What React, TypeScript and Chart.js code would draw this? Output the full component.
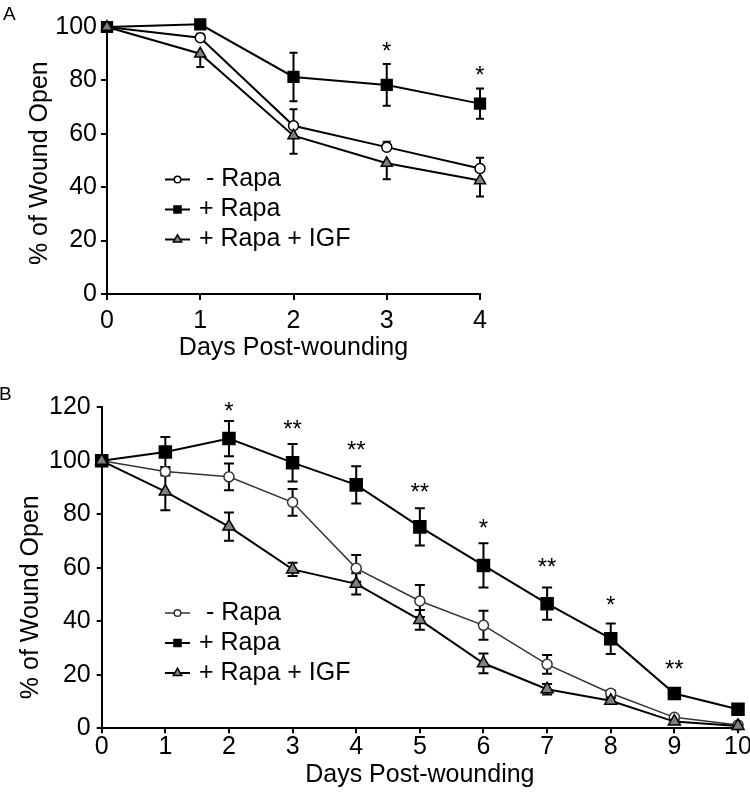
import React, { useEffect, useRef } from 'react';
import { Chart, registerables } from 'chart.js';

Chart.register(...registerables);

const FONT = "'Liberation Sans', Arial, Helvetica, sans-serif";
const TEXT_SIZE = 25;

// ---------- Shared text ----------
const seriesLabels = [' - Rapa', '+ Rapa', '+ Rapa + IGF'];
const xTitle = 'Days Post-wounding';
const yTitle = '% of Wound Open';

// ---------- Panel A ----------
const daysA = [0, 1, 2, 3, 4];
const minusRapaA = [100, 96, 63, 55, 47];
const minusRapaErrA = [0, 1.5, 6.2, 2, 4];
const plusRapaA = [100, 101, 81.3, 78.3, 71.3];
const plusRapaErrA = [0, 1.5, 9.1, 7.8, 5.7];
const igfA = [100, 90, 59.3, 49, 42.5];
const igfErrA = [0, 5, 6.8, 6, 6];
const starDaysA = [3, 4];
const starTextA = ['*', '*'];
const starLevelA = [93, 84];
const yTicksA = [0, 20, 40, 60, 80, 100];

// ---------- Panel B ----------
const daysB = [0, 1, 2, 3, 4, 5, 6, 7, 8, 9, 10];
const minusRapaB = [100, 96, 94, 84.5, 59.8, 47.6, 38.5, 23.9, 13.1, 4.1, 1.2];
const minusRapaErrB = [0, 1.5, 5, 5, 5, 6, 5.4, 3.5, 1, 0.5, 0.3];
const plusRapaB = [100, 103.3, 108.3, 99.3, 91, 75.3, 60.9, 46.6, 33.5, 13, 7.1];
const plusRapaErrB = [0, 5.6, 6.6, 7, 7, 7, 8.3, 6, 5.7, 1.5, 1];
const igfB = [100, 88.5, 75.4, 59.4, 54, 40.5, 24.3, 14.6, 10.3, 2.5, 0.9];
const igfErrB = [0, 7, 5.3, 2.5, 4, 3.7, 3.7, 2, 1, 0.5, 0.3];
const starDaysB = [2, 3, 4, 5, 6, 7, 8, 9];
const starTextB = ['*', '**', '**', '**', '*', '**', '*', '**'];
const starLevelB = [120.9, 114, 106.3, 90.3, 76.9, 62.3, 48.2, 24.3];
const yTicksB = [0, 20, 40, 60, 80, 100, 120];

const toPts = (xs: number[], ys: number[]) => xs.map((x, i) => ({ x, y: ys[i] }));

function drawMarker(ctx: CanvasRenderingContext2D, style: string, x: number, y: number, r: number) {
  ctx.beginPath();
  if (style === 'circle') {
    ctx.arc(x, y, r, 0, Math.PI * 2);
  } else if (style === 'rect') {
    const s = r * Math.SQRT1_2;
    ctx.rect(x - s, y - s, 2 * s, 2 * s);
  } else {
    let a = 0;
    for (let k = 0; k < 3; k++) {
      const px = x + Math.sin(a) * r;
      const py = y - Math.cos(a) * r;
      if (k === 0) ctx.moveTo(px, py);
      else ctx.lineTo(px, py);
      a += (2 * Math.PI) / 3;
    }
    ctx.closePath();
  }
  ctx.fill();
  ctx.stroke();
}

const errorBarPlugin = {
  id: 'errorBars',
  beforeDatasetsDraw(chart: any, _args: any, o: any) {
    const { ctx } = chart;
    const xS = chart.scales.x;
    const yS = chart.scales.y;
    ctx.save();
    ctx.strokeStyle = '#000';
    ctx.lineWidth = o.lineWidth;
    chart.data.datasets.forEach((ds: any) => {
      const errs: number[] = ds.errorBars;
      if (!errs) return;
      ds.data.forEach((pt: any, j: number) => {
        const e = errs[j];
        if (!e) return;
        const up = ds.errorDir !== 'down';
        const down = ds.errorDir !== 'up';
        const px = xS.getPixelForValue(pt.x);
        const yTop = yS.getPixelForValue(pt.y + (up ? e : 0));
        const yBot = yS.getPixelForValue(pt.y - (down ? e : 0));
        ctx.beginPath();
        ctx.moveTo(px, yTop);
        ctx.lineTo(px, yBot);
        if (up) {
          ctx.moveTo(px - o.cap, yTop);
          ctx.lineTo(px + o.cap, yTop);
        }
        if (down) {
          ctx.moveTo(px - o.cap, yBot);
          ctx.lineTo(px + o.cap, yBot);
        }
        ctx.stroke();
      });
    });
    ctx.restore();
  },
};

const starPlugin = {
  id: 'stars',
  afterDatasetsDraw(chart: any, _args: any, o: any) {
    const { ctx } = chart;
    const xS = chart.scales.x;
    const yS = chart.scales.y;
    ctx.save();
    ctx.fillStyle = '#000';
    ctx.font = `${o.size}px ${FONT}`;
    ctx.textAlign = 'center';
    ctx.textBaseline = 'alphabetic';
    o.days.forEach((d: number, i: number) => {
      const x = xS.getPixelForValue(d);
      const y = yS.getPixelForValue(o.levels[i]) + 0.57 * o.size;
      ctx.fillText(o.texts[i], x, y);
    });
    ctx.restore();
  },
};

const legendPlugin = {
  id: 'insetLegend',
  afterDraw(chart: any, _args: any, o: any) {
    const { ctx } = chart;
    ctx.save();
    chart.data.datasets.forEach((ds: any, i: number) => {
      const y = o.top + i * o.gap;
      ctx.strokeStyle = ds.borderColor;
      ctx.lineWidth = ds.borderWidth;
      ctx.beginPath();
      ctx.moveTo(o.left, y);
      ctx.lineTo(o.left + o.lineLen, y);
      ctx.stroke();
      ctx.fillStyle = ds.pointBackgroundColor;
      ctx.strokeStyle = ds.pointBorderColor;
      ctx.lineWidth = ds.pointBorderWidth;
      drawMarker(ctx, ds.pointStyle, o.left + o.lineLen / 2, y, o.markerRadius[i]);
      ctx.fillStyle = '#000';
      ctx.font = `${o.size}px ${FONT}`;
      ctx.textAlign = 'left';
      ctx.textBaseline = 'middle';
      ctx.fillText(ds.label, o.textX, y);
    });
    ctx.restore();
  },
};

const yTitlePlugin = {
  id: 'yTitle',
  afterDraw(chart: any, _args: any, o: any) {
    const { ctx } = chart;
    const y = chart.scales.y.getPixelForValue(o.value);
    ctx.save();
    ctx.translate(o.x, y);
    ctx.rotate(-Math.PI / 2);
    ctx.fillStyle = '#000';
    ctx.font = `${o.size}px ${FONT}`;
    ctx.textAlign = 'center';
    ctx.textBaseline = 'middle';
    ctx.fillText(o.text, 0, 0);
    ctx.restore();
  },
};

type PanelSpec = {
  days: number[];
  series: number[][];
  errs: number[][];
  dirs: string[];
  starDays: number[];
  starText: string[];
  starLevel: number[];
  yTicks: number[];
  height: number;
  chartTop: number;
  yAxisWidth: number;
  rightPad: number;
  xAxisHeight: number;
  tickLen: number;
  xTickPad: number;
  yTickPad: number;
  xTitlePadBottom: number;
  yTitleX: number;
  radii: number[];
  circleLine: string;
  circleLineWidth: number;
  cap: number;
  legendTop: number;
};

function buildConfig(p: PanelSpec): any {
  const styles = ['circle', 'rect', 'triangle'];
  const fills = ['#ffffff', '#000000', '#808080'];
  const orders = [2, 1, 0];
  const datasets = p.series.map((s, i) => ({
    label: seriesLabels[i],
    data: toPts(p.days, s),
    errorBars: p.errs[i],
    errorDir: p.dirs[i],
    borderColor: i === 0 ? p.circleLine : '#000000',
    borderWidth: i === 0 ? p.circleLineWidth : 2,
    pointStyle: styles[i],
    pointRadius: p.radii[i],
    pointHoverRadius: p.radii[i],
    pointBackgroundColor: fills[i],
    pointBorderColor: i === 0 ? p.circleLine : '#000000',
    pointBorderWidth: 1.5,
    tension: 0,
    fill: false,
    clip: false,
    order: orders[i],
  }));
  const tickFont = { family: FONT, size: TEXT_SIZE, lineHeight: 1 };
  const yMin = p.yTicks[0];
  const yMax = p.yTicks[p.yTicks.length - 1];
  return {
    type: 'line',
    data: { datasets },
    options: {
      animation: false,
      responsive: false,
      devicePixelRatio: 1,
      events: [],
      layout: { padding: { top: p.chartTop, left: 0, right: p.rightPad, bottom: 0 } },
      scales: {
        x: {
          type: 'linear',
          min: p.days[0],
          max: p.days[p.days.length - 1],
          ticks: { stepSize: 1, color: '#000', font: tickFont, padding: p.xTickPad, maxRotation: 0, autoSkip: false },
          grid: { drawOnChartArea: false, drawTicks: true, tickLength: p.tickLen, color: '#000', lineWidth: 2 },
          border: { display: true, color: '#000', width: 2 },
          title: {
            display: true,
            text: xTitle,
            color: '#000',
            font: { family: FONT, size: TEXT_SIZE, lineHeight: 1.2 },
            padding: { top: 0, bottom: p.xTitlePadBottom },
          },
          afterFit: (s: any) => {
            s.height = p.xAxisHeight;
            s.paddingLeft = 0;
            s.paddingRight = 0;
          },
        },
        y: {
          type: 'linear',
          min: yMin,
          max: yMax,
          ticks: { stepSize: p.yTicks[1] - p.yTicks[0], color: '#000', font: tickFont, padding: p.yTickPad },
          grid: { drawOnChartArea: false, drawTicks: true, tickLength: p.tickLen, color: '#000', lineWidth: 2 },
          border: { display: true, color: '#000', width: 2 },
          afterFit: (s: any) => {
            s.width = p.yAxisWidth;
            s.paddingTop = 0;
            s.paddingBottom = 0;
          },
        },
      },
      plugins: {
        legend: { display: false },
        tooltip: { enabled: false },
        errorBars: { lineWidth: 2, cap: p.cap },
        stars: { days: p.starDays, texts: p.starText, levels: p.starLevel, size: 24 },
        insetLegend: {
          left: 165,
          lineLen: 25,
          textX: 199,
          top: p.legendTop,
          gap: 30,
          size: TEXT_SIZE,
          markerRadius: [3.3, 5, 4.8],
        },
        yTitle: { text: yTitle, x: p.yTitleX, value: 49, size: TEXT_SIZE },
      },
    },
    plugins: [errorBarPlugin, starPlugin, legendPlugin, yTitlePlugin],
  };
}

const specA: PanelSpec = {
  days: daysA,
  series: [minusRapaA, plusRapaA, igfA],
  errs: [minusRapaErrA, plusRapaErrA, igfErrA],
  dirs: ['up', 'both', 'down'],
  starDays: starDaysA,
  starText: starTextA,
  starLevel: starLevelA,
  yTicks: yTicksA,
  height: 380,
  chartTop: 27,
  yAxisWidth: 107,
  rightPad: 270,
  xAxisHeight: 86,
  tickLen: 6,
  xTickPad: 9,
  yTickPad: 4,
  xTitlePadBottom: 17,
  yTitleX: 40,
  radii: [5, 7.6, 6.4],
  circleLine: '#000000',
  circleLineWidth: 2,
  cap: 4,
  legendTop: 179.5,
};

const specB: PanelSpec = {
  days: daysB,
  series: [minusRapaB, plusRapaB, igfB],
  errs: [minusRapaErrB, plusRapaErrB, igfErrB],
  dirs: ['both', 'both', 'both'],
  starDays: starDaysB,
  starText: starTextB,
  starLevel: starLevelB,
  yTicks: yTicksB,
  height: 412,
  chartTop: 27.3,
  yAxisWidth: 101.7,
  rightPad: 12,
  xAxisHeight: 63.7,
  tickLen: 5,
  xTickPad: 1.5,
  yTickPad: 6,
  xTitlePadBottom: 2,
  yTitleX: 31,
  radii: [5, 8.5, 7],
  circleLine: '#333333',
  circleLineWidth: 1.5,
  cap: 5,
  legendTop: 233,
};

function Panel({ spec, top }: { spec: PanelSpec; top: number }) {
  const ref = useRef<HTMLCanvasElement | null>(null);
  useEffect(() => {
    if (!ref.current) return;
    const chart = new Chart(ref.current, buildConfig(spec));
    return () => chart.destroy();
  }, [spec]);
  return (
    <canvas
      ref={ref}
      width={750}
      height={spec.height}
      style={{ position: 'absolute', left: 0, top, width: 750, height: spec.height, display: 'block' }}
    />
  );
}

export default function App() {
  const letter: React.CSSProperties = {
    position: 'absolute',
    fontFamily: FONT,
    fontSize: 19,
    lineHeight: '19px',
    color: '#000',
  };
  return (
    <div style={{ position: 'absolute', left: 0, top: 0, width: 750, height: 792, background: '#fff', overflow: 'hidden' }}>
      <Panel spec={specA} top={0} />
      <Panel spec={specB} top={380} />
      <div style={{ ...letter, left: 3, top: 4 }}>A</div>
      <div style={{ ...letter, left: -1, top: 384 }}>B</div>
    </div>
  );
}
